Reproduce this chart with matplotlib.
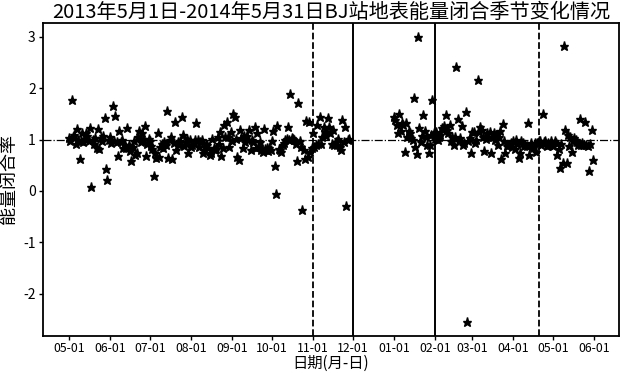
import matplotlib
matplotlib.use("Agg")
import matplotlib.pyplot as plt
import pandas as pd
import numpy as np

plt.rcParams['font.family'] = ['Noto Sans CJK SC', 'DejaVu Sans']
plt.rcParams['axes.unicode_minus'] = False

# Daily energy closure ratio, 2013-05-01 .. 2013-11-30
seg1_start = '2013-05-01'
seg1_values = [
    1.03, 0.98, 1.77, 1.05, 1.10, 0.92, 1.21, 1.00, 0.63, 0.97,
    1.12, 0.95, 1.02, 1.13, 1.08, 0.98, 1.23, 0.08, 0.99, 0.92,
    1.04, 0.83, 1.20, 0.81, 1.03, 0.97, 1.08, 1.42, 0.43, 0.22,
    1.00, 1.05, 0.94, 1.65, 0.98, 1.46, 0.96, 0.69, 1.17, 0.96,
    1.00, 0.84, 0.89, 0.83, 1.23, 0.90, 0.78, 0.58, 0.85, 0.97,
    0.70, 0.73, 1.05, 1.16, 0.95, 1.12, 1.02, 1.26, 0.69, 0.92,
    1.02, 0.97, 0.88, 0.81, 0.30, 0.73, 0.65, 1.13, 0.67, 0.85,
    0.92, 0.83, 0.96, 0.90, 1.56, 0.65, 0.99, 1.05, 0.63, 0.93,
    1.35, 0.79, 0.95, 0.89, 0.98, 1.44, 1.10, 0.88, 0.96, 1.02,
    0.73, 0.99, 0.85, 0.89, 0.93, 0.99, 1.33, 0.99, 0.86, 0.96,
    0.99, 0.73, 0.80, 0.92, 0.89, 0.83, 0.71, 0.73, 1.02, 0.83,
    0.79, 0.81, 1.05, 0.92, 1.15, 0.69, 0.83, 1.28, 1.05, 1.35,
    1.05, 0.86, 1.15, 0.97, 1.50, 1.44, 1.02, 0.67, 0.60, 1.18,
    1.03, 0.84, 1.07, 0.95, 1.08, 0.99, 1.18, 0.79, 1.00, 0.96,
    1.24, 0.83, 1.12, 0.85, 0.96, 0.79, 0.75, 1.21, 0.81, 0.84,
    0.78, 0.83, 0.80, 0.97, 1.16, 0.49, -0.05, 1.26, 0.82, 0.79,
    0.76, 0.89, 0.93, 0.99, 1.02, 1.24, 1.00, 1.88, 1.03, 1.02,
    1.00, 0.92, 0.58, 1.71, 0.98, 0.85, -0.38, 0.79, 0.63, 1.37,
    0.67, 1.34, 0.75, 0.83, 1.12, 0.86, 0.89, 1.28, 0.92, 1.44,
    0.92, 1.05, 1.24, 1.15, 1.08, 1.42, 1.24, 1.12, 0.92, 1.18,
    0.89, 0.95, 0.89, 1.02, 0.86, 0.79, 1.39, 0.96, 1.24, -0.29,
    1.00, 1.02,
]

# Daily energy closure ratio, 2014-01-01 .. 2014-05-31
seg2_start = '2014-01-01'
seg2_values = [
    1.45, 1.38, 1.29, 1.13, 1.50, 1.16, 1.32, 1.29, 0.76, 1.33,
    1.05, 1.16, 1.13, 1.03, 1.00, 1.82, 0.86, 0.72, 3.00, 1.22,
    0.95, 1.08, 1.48, 1.16, 1.05, 0.90, 0.74, 0.90, 1.10, 1.77,
    1.13, 1.02, 1.14, 1.00, 1.05, 1.10, 1.22, 1.19, 1.26, 1.48,
    1.19, 1.12, 1.29, 0.97, 1.05, 0.90, 1.06, 2.41, 1.40, 0.98,
    1.03, 1.26, 0.90, 0.94, 1.53, -2.55, 0.97, 1.03, 0.73, 1.14,
    1.14, 0.94, 1.00, 2.17, 1.14, 1.24, 1.19, 1.06, 0.78, 1.02,
    1.13, 1.06, 1.14, 0.74, 1.05, 1.13, 1.00, 1.10, 0.90, 1.05,
    1.16, 0.62, 1.31, 0.97, 0.74, 0.87, 0.90, 0.90, 0.94, 0.85,
    0.97, 0.81, 1.00, 0.92, 0.65, 0.74, 0.97, 0.94, 0.88, 0.90,
    0.87, 1.32, 0.71, 0.93, 0.87, 0.84, 0.94, 0.76, 0.94, 0.98,
    0.97, 0.90, 1.50, 0.95, 0.97, 0.87, 0.94, 0.90, 0.97, 0.92,
    0.87, 0.97, 0.94, 0.71, 0.81, 0.44, 0.92, 0.54, 2.83, 1.18,
    0.55, 1.10, 0.88, 1.06, 0.76, 0.97, 1.03, 1.00, 0.95, 0.90,
    1.40, 0.90, 0.93, 0.90, 1.35, 0.90, 0.87, 0.39, 0.92, 1.19,
    0.60,
]

tick_dates = pd.date_range('2013-05-01', '2014-06-01', freq='MS')
tick_labels = [d.strftime('%m-%d') for d in tick_dates]
dashed_dates = ['2013-11-01', '2014-04-20']
solid_dates = ['2013-12-01', '2014-02-01']
ref_level = 1.0

title = '2013年5月1日-2014年5月31日BJ站地表能量闭合季节变化情况'
xlabel = '日期(月-日)'
ylabel = '能量闭合率'

x1 = pd.date_range(seg1_start, periods=len(seg1_values), freq='D')
x2 = pd.date_range(seg2_start, periods=len(seg2_values), freq='D')
x_all = x1.append(x2)
y_all = np.array(seg1_values + seg2_values)

fig = plt.figure(figsize=(6.23, 3.73), dpi=100)
ax = fig.add_axes([0.0685, 0.099, 0.9255, 0.840])

ax.plot(x_all, y_all, linestyle='none', marker='*', color='black', markersize=6.5)

ax.axhline(ref_level, color='black', linestyle='-.', linewidth=0.9)
for d in dashed_dates:
    ax.axvline(pd.Timestamp(d), color='black', linestyle='--', linewidth=1.3)
for d in solid_dates:
    ax.axvline(pd.Timestamp(d), color='black', linestyle='-', linewidth=1.4)

ax.set_xticks(tick_dates)
ax.set_xticklabels(tick_labels)
ax.tick_params(axis='x', labelsize=8.8, length=3, width=1, pad=1, color='black')
ax.tick_params(axis='y', labelsize=10, length=3, width=1, pad=2, color='black')
ax.set_yticks([-2, -1, 0, 1, 2, 3])
ax.set_yticklabels(['-2', '-1', '0', '1', '2', '3'])

for s in ax.spines.values():
    s.set_linewidth(1.3)
    s.set_color('black')

ax.set_title(title, fontsize=14.5, pad=1)
ax.set_xlabel(xlabel, fontsize=11, labelpad=0)
ax.set_ylabel(ylabel, fontsize=13, labelpad=4)

fig.savefig('out.png', dpi=100)
